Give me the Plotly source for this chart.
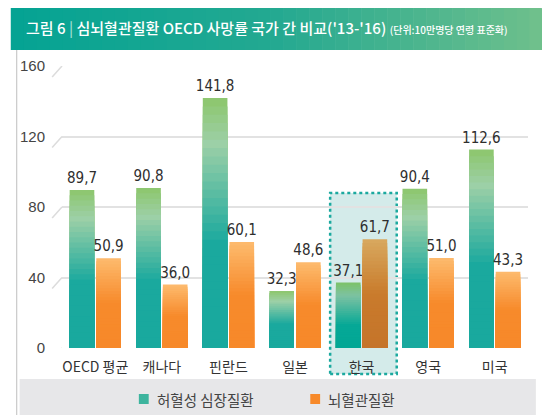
import plotly.graph_objects as go

# data
countries = ["OECD 평균", "캐나다", "핀란드", "일본", "한국", "영국", "미국"]
heart = [89.7, 90.8, 141.8, 32.3, 37.1, 90.4, 112.6]
stroke = [50.9, 36.0, 60.1, 48.6, 61.7, 51.0, 43.3]
series_names = ["허혈성 심장질환", "뇌혈관질환"]
y_ticks = [0, 40, 80, 120, 160]
highlight = "한국"

# the page adds an 8px body margin, so the figure is shrunk by that much
OFF = 8
W, H = 550 - OFF, 415 - OFF
L, R, T, B = 55 - OFF, 22, 66 - OFF, 67
PW, PH = W - L - R, H - T - B


# helpers take positions in the 550x415 window
def px2x(px):
    return (px - 55) / PW


def py2y(py):
    return (348 - py) / PH


def hex2rgb(h):
    h = h.lstrip("#")
    return [int(h[i:i + 2], 16) for i in (0, 2, 4)]


def grad(stops, t):
    for (t0, c0), (t1, c1) in zip(stops, stops[1:]):
        if t <= t1:
            f = 0 if t1 == t0 else (t - t0) / (t1 - t0)
            a, b = hex2rgb(c0), hex2rgb(c1)
            return "rgb(%d,%d,%d)" % tuple(round(a[i] + (b[i] - a[i]) * f) for i in range(3))
    return stops[-1][1]


green = [(0, "#19a99e"), (0.42, "#1aa99e"), (0.82, "#9dd0a7"), (1, "#8cc66b")]
orange = [(0, "#f7892a"), (0.5, "#f78a2b"), (1, "#fdbb6e")]
green_kr = [(0, "#02a795"), (0.35, "#06a896"), (0.8, "#7dc2a2"), (1, "#7cc268")]
orange_kr = [(0, "#c5742a"), (0.5, "#c97b2c"), (1, "#d8a95f")]

fig = go.Figure()

# each bar is a stack of overlaid bars from 0, shorter ones on top, to fake the gradient
N = 30
bar_w = 0.37
series = [
    (heart, green, green_kr, -0.385),
    (stroke, orange, orange_kr, 0.015),
]
for vals, stops, stops_kr, off in series:
    for k in range(N):
        frac = (N - k) / N
        t = frac - 0.5 / N
        cols = [grad(stops_kr if c == highlight else stops, t) for c in countries]
        fig.add_trace(go.Bar(
            x=countries,
            y=[v * frac for v in vals],
            width=bar_w,
            offset=off,
            marker=dict(color=cols, line=dict(width=0)),
            text=[f"{v:.1f}".replace(".", ",") for v in vals] if k == 0 else None,
            textposition="outside" if k == 0 else "none",
            constraintext="none",
            textfont=dict(family="DejaVu Sans Condensed, Liberation Sans", size=15, color="#2e2e2e"),
            cliponaxis=False,
            showlegend=False,
            hoverinfo="skip",
        ))

shapes = []
# title bar gradient
tb_l, tb_r, tb_t, tb_b, rad = 3, 546, 4, 50, 16
strips = 40
for i in range(strips):
    x0 = tb_l + (tb_r - rad - tb_l) * i / strips
    x1 = tb_l + (tb_r - rad - tb_l) * (i + 1) / strips + 0.6
    c = grad([(0, "#05a393"), (0.5, "#24a991"), (1, "#6dbf8c")], i / strips)
    shapes.append(dict(type="rect", xref="paper", yref="paper", x0=px2x(x0), x1=px2x(x1),
                       y0=py2y(tb_b), y1=py2y(tb_t), fillcolor=c, line=dict(width=0), layer="below"))
xa = tb_r - rad - 0.5
shapes.append(dict(
    type="path", xref="paper", yref="paper", layer="below", fillcolor="#6fc08c", line=dict(width=0),
    path=f"M {px2x(xa)},{py2y(tb_b)} L {px2x(xa)},{py2y(tb_t)} L {px2x(tb_r - rad)},{py2y(tb_t)} "
         f"Q {px2x(tb_r)},{py2y(tb_t)} {px2x(tb_r)},{py2y(tb_t + rad)} L {px2x(tb_r)},{py2y(tb_b)} Z"))

# frame borders
for xb in (9, 545):
    shapes.append(dict(type="line", xref="paper", yref="paper", x0=px2x(xb), x1=px2x(xb),
                       y0=py2y(50), y1=py2y(415), line=dict(color="#c9c9c9", width=1.2)))

# legend box
shapes.append(dict(type="rect", xref="paper", yref="paper", x0=px2x(12), x1=px2x(536),
                   y0=py2y(415), y1=py2y(379), fillcolor="#e7e7e9", line=dict(width=0), layer="below"))

# highlight box for Korea
hi = countries.index(highlight)
n = len(countries)
shapes.append(dict(type="rect", xref="paper", yref="paper",
                   x0=hi / n + 0.004, x1=(hi + 1) / n + 0.004,
                   y0=py2y(374), y1=py2y(193),
                   fillcolor="#d4ebea", line=dict(color="#1ba99f", width=2.5, dash="dot"), layer="below"))

# slanted grid ends
for v in y_ticks:
    shapes.append(dict(type="line", xref="paper", yref="y", ysizemode="pixel", yanchor=v,
                       x0=px2x(45), x1=0, y0=-11, y1=0, line=dict(color="#dcdcdc", width=1.5)))

annotations = [
    dict(xref="paper", yref="paper", x=px2x(16), y=py2y(28), xanchor="left", yanchor="middle",
         showarrow=False,
         text="그림 6 <span style='color:#9fdcd2'>|</span> 심뇌혈관질환 OECD 사망률 국가 간 비교('13-'16) "
              "<span style='font-size:10px'>(단위:10만명당 연령 표준화)</span>",
         font=dict(family="Noto Sans CJK KR", size=15, color="white", weight=500)),
]

# legend
leg = [(138, series_names[0], "#3db49e"), (312, series_names[1], "#f7892a")]
for cx, name, col in leg:
    shapes.append(dict(type="rect", xref="paper", yref="paper",
                       x0=px2x(cx - 5), x1=px2x(cx + 5), y0=py2y(404), y1=py2y(394),
                       fillcolor=col, line=dict(width=0)))
    annotations.append(dict(xref="paper", yref="paper", x=px2x(cx + 11), y=py2y(399),
                            xanchor="left", yanchor="middle", showarrow=False, text=name,
                            font=dict(family="Noto Sans CJK KR", size=14.5, color="#444")))

fig.update_layout(
    width=W, height=H,
    margin=dict(l=L, r=R, t=T, b=B),
    barmode="overlay",
    paper_bgcolor="white",
    plot_bgcolor="rgba(0,0,0,0)",
    showlegend=False,
    shapes=shapes,
    annotations=annotations,
    xaxis=dict(
        type="category", categoryorder="array", categoryarray=countries,
        showgrid=False, zeroline=False, showline=False, ticks="", ticklabelstandoff=9,
        tickfont=dict(family="Noto Sans CJK KR", size=14, color="#333"),
    ),
    yaxis=dict(
        range=[0, 160], tickvals=y_ticks, showgrid=True, gridcolor="#e2e2e2", gridwidth=1.5,
        zeroline=False, showline=False, ticks="", ticklabelstandoff=16,
        tickfont=dict(family="Liberation Sans", size=15, color="#444"),
    ),
)

fig.write_html("out.html")
